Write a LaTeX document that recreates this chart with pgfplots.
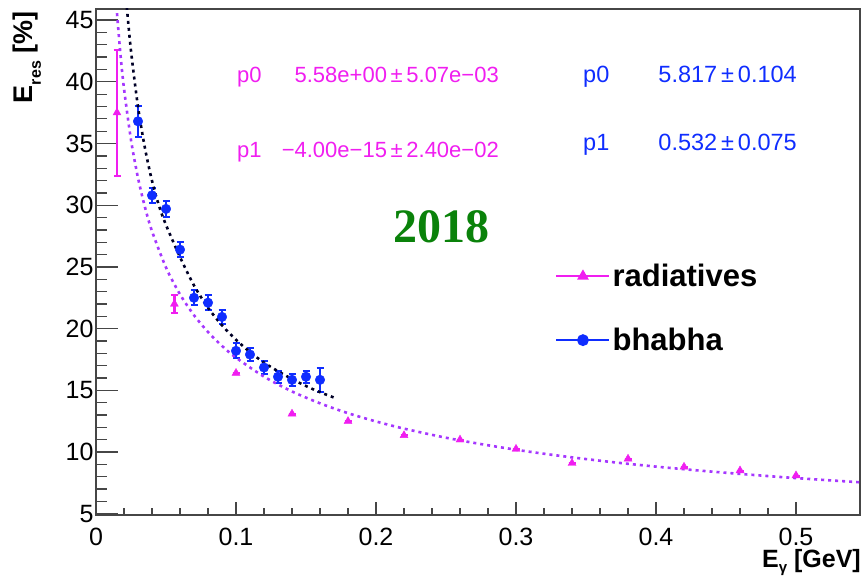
\documentclass[border=0pt]{standalone}
\usepackage{pgfplots}
\pgfplotsset{compat=1.18}
\usepackage{pgfplotstable}
\usepackage{fontspec}
\setmainfont{Liberation Sans}
\newfontfamily\serifb{Liberation Serif}
\definecolor{mag}{RGB}{240,30,240}
\definecolor{blu}{RGB}{15,45,255}
\definecolor{vio}{RGB}{165,55,255}
\definecolor{grn}{RGB}{10,130,10}
\definecolor{frm}{RGB}{70,70,70}

\pgfplotstableread{
x y ey
0.015 37.5 5.1
0.056 22.0 0.75
0.10 16.4 0
0.14 13.1 0
0.18 12.5 0
0.22 11.35 0
0.26 11.0 0
0.30 10.25 0
0.34 9.1 0
0.38 9.45 0
0.42 8.8 0
0.46 8.5 0
0.50 8.1 0
}\radtab

\pgfplotstableread{
x y ey
0.03 36.8 1.25
0.04 30.8 0.6
0.05 29.7 0.65
0.06 26.4 0.6
0.07 22.5 0.6
0.08 22.1 0.6
0.09 20.95 0.6
0.10 18.2 0.6
0.11 17.9 0.5
0.12 16.85 0.5
0.13 16.1 0.5
0.14 15.85 0.5
0.15 16.1 0.5
0.16 15.85 1.0
}\bhatab

\pgfplotstableread{
x y
0.0150 45.56
0.0175 42.18
0.0200 39.46
0.0250 35.29
0.0300 32.22
0.0350 29.83
0.0400 27.90
0.0500 24.95
0.0600 22.78
0.0700 21.09
0.0800 19.73
0.0900 18.60
0.1000 17.65
0.1200 16.11
0.1400 14.91
0.1600 13.95
0.1800 13.15
0.2000 12.48
0.2200 11.90
0.2500 11.16
0.2800 10.55
0.3100 10.02
0.3400 9.57
0.3700 9.17
0.4000 8.82
0.4300 8.51
0.4600 8.23
0.4900 7.97
0.5200 7.74
0.5457 7.55
}\radfit

\pgfplotstableread{
x y
0.0220 46.07
0.0250 42.50
0.0300 37.98
0.0350 34.61
0.0400 31.98
0.0450 29.95
0.0500 28.40
0.0600 25.80
0.0700 23.50
0.0800 21.70
0.0900 20.27
0.1000 19.10
0.1100 18.10
0.1200 17.25
0.1300 16.55
0.1400 15.92
0.1500 15.35
0.1600 14.85
0.1720 14.33
}\bhafit

\begin{document}
\begin{tikzpicture}
\path[use as bounding box] (0pt,0pt) rectangle (863pt,576pt);
\begin{axis}[
  at={(96pt,61pt)}, anchor=south west,
  scale only axis, width=764pt, height=506pt,
  xmin=0, xmax=0.5457, ymin=4.9, ymax=45.9,
  axis line style={frm, line width=1.3pt},
  tick align=inside, tick pos=left,
  xtick={0,0.1,0.2,0.3,0.4,0.5}, ytick={5,10,15,20,25,30,35,40,45},
  minor x tick num=4, minor y tick num=4,
  every tick/.style={frm, line width=1.3pt},
  xtick style={/pgfplots/major tick length=13pt,/pgfplots/minor tick length=6.5pt},
  ytick style={/pgfplots/major tick length=22pt,/pgfplots/minor tick length=11pt},
  scaled x ticks=false, scaled y ticks=false,
  /pgf/number format/assume math mode=true,
  tick label style={font=\fontsize{25}{25}\selectfont},
  xticklabel style={yshift=-10pt},
  yticklabel style={xshift=1pt},
  legend style={draw=none, fill=none, at={(0.601,0.50)}, anchor=north west,
    font=\fontsize{31}{31}\selectfont\bfseries, row sep=36pt, inner sep=0pt,
    nodes={inner sep=2pt}},
  legend cell align=left,
]
\addplot[mag, only marks, mark=triangle*, mark size=4.6pt,
  error bars/.cd, y dir=both, y explicit,
  error bar style={line width=2.2pt, mag},
  error mark options={rotate=90, mag, line width=2pt, mark size=3.5pt},
  /pgfplots/legend image code/.code={\draw[mag, line width=2.2pt, sharp plot, mark=triangle*, mark size=4.6pt, mark repeat=2, mark phase=2] plot coordinates {(0pt,0pt) (26.5pt,0pt) (53pt,0pt)};}]
  table[x=x, y=y, y error=ey] {\radtab};
\addlegendentry{radiatives}
\addplot[blu, only marks, mark=*, mark size=4.8pt,
  error bars/.cd, y dir=both, y explicit,
  error bar style={line width=2.2pt, blu},
  error mark options={rotate=90, blu, line width=2pt, mark size=3.5pt},
  /pgfplots/legend image code/.code={\draw[blu, line width=2.2pt, sharp plot, mark=*, mark size=4.8pt, mark repeat=2, mark phase=2] plot coordinates {(0pt,0pt) (26.5pt,0pt) (53pt,0pt)};}]
  table[x=x, y=y, y error=ey] {\bhatab};
\addlegendentry{bhabha}
\addplot[vio, smooth, line width=2.6pt, dash pattern=on 3pt off 4pt, forget plot] table[x=x,y=y] {\radfit};
\addplot[black!85!blue, smooth, line width=2.6pt, dash pattern=on 3pt off 4pt, forget plot] table[x=x,y=y] {\bhafit};
\end{axis}
% axis titles
\node[rotate=90, anchor=east, font=\fontsize{27}{27}\selectfont\bfseries] at (27pt,568pt) {E\raisebox{-0.3em}{\fontsize{16}{16}\selectfont res} [\%]};
\node[anchor=base east, inner sep=0pt, font=\fontsize{25}{25}\selectfont\bfseries] at (861pt,8pt) {E\raisebox{-0.2em}{\fontsize{15}{15}\selectfont γ} [GeV]};
% year
\node[font=\fontsize{48}{48}\selectfont\serifb\bfseries, text=grn] at (441pt,349pt) {2018};
% fit stats
\begin{scope}[every node/.style={font=\fontsize{22}{22}\selectfont, inner sep=0pt}]
\node[anchor=base west, text=mag] at (237pt,493pt) {p0};
\node[anchor=base east, text=mag] at (499pt,493pt) {5.58e+00\,±\,5.07e−03};
\node[anchor=base west, text=mag] at (237pt,418pt) {p1};
\node[anchor=base east, text=mag] at (499pt,418pt) {−4.00e−15\,±\,2.40e−02};
\end{scope}
\begin{scope}[every node/.style={font=\fontsize{23.5}{23.5}\selectfont, inner sep=0pt}]
\node[anchor=base west, text=blu] at (583pt,493pt) {p0};
\node[anchor=base east, text=blu] at (797pt,493pt) {5.817\,±\,0.104};
\node[anchor=base west, text=blu] at (583pt,425pt) {p1};
\node[anchor=base east, text=blu] at (797pt,425pt) {0.532\,±\,0.075};
\end{scope}
\end{tikzpicture}
\end{document}
